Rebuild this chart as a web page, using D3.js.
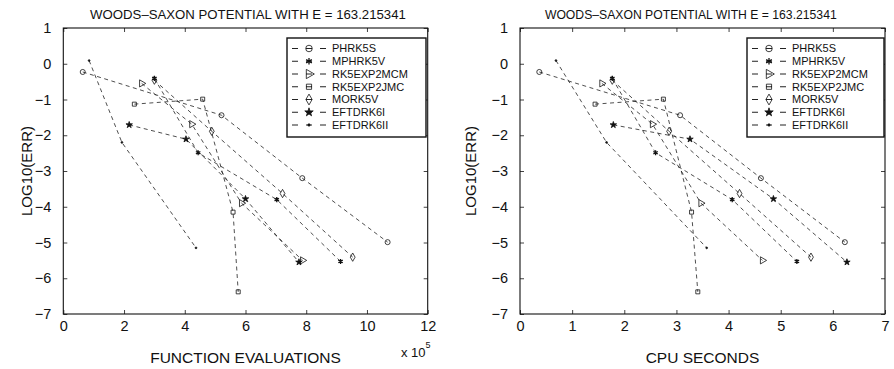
<!DOCTYPE html>
<html><head><meta charset="utf-8">
<script src="https://cdn.jsdelivr.net/npm/d3@7"></script>
<style>
body{margin:0;background:#fff;}
svg{display:block;font-family:"Liberation Sans",Arial,Helvetica,sans-serif;}
</style></head>
<body><svg id="chart" width="894" height="369"></svg>
<script>
const seriesNames = ["PHRK5S","MPHRK5V","RK5EXP2MCM","RK5EXP2JMC","MORK5V","EFTDRK6I","EFTDRK6II"];
const markerKinds = ["circle","asterisk","triangle","square","diamond","star","dot"];
// log10(error) values for each series (shared by both panels)
const logErr = [
  [-0.23,-1.44,-3.20,-4.99],
  [-0.41,-2.49,-3.80,-5.53],
  [-0.55,-1.69,-3.90,-5.50],
  [-1.13,-0.99,-4.15,-6.38],
  [-0.46,-1.89,-3.63,-5.41],
  [-1.71,-2.11,-3.78,-5.55],
  [0.09,-2.20,-5.15]
];
// function evaluations (x 10^5)
const funcEvals = [
  [0.64,5.21,7.87,10.68],
  [3.00,4.44,7.03,9.13],
  [2.58,4.23,5.87,7.88],
  [2.34,4.59,5.59,5.76],
  [3.00,4.89,7.22,9.53],
  [2.17,4.04,6.00,7.76],
  [0.85,1.93,4.37]
];
// CPU seconds
const cpuSeconds = [
  [0.37,3.07,4.62,6.23],
  [1.77,2.60,4.07,5.31],
  [1.57,2.54,3.47,4.65],
  [1.44,2.75,3.29,3.41],
  [1.77,2.86,4.21,5.58],
  [1.79,3.26,4.86,6.27],
  [0.69,1.66,3.58]
];
const yTicks = [-7,-6,-5,-4,-3,-2,-1,0,1];
const xTicksLeft = [0,2,4,6,8,10,12];
const xTicksRight = [0,1,2,3,4,5,6,7];
const titleText = "WOODS\u2013SAXON POTENTIAL WITH E = 163.215341";

const svg = d3.select("#chart");
const ink = "#111";

function marker(g, kind, x, y, k){
  k = k || 1;
  let sym, size, fill="none", rot=0, sw=0.8;
  switch(kind){
    case "circle": sym=d3.symbolCircle; size=20; break;
    case "asterisk": sym=d3.symbolAsterisk; size=18; sw=1.3; break;
    case "triangle": sym=d3.symbolTriangle; size=22; rot=90; break;
    case "square": sym=d3.symbolSquare; size=16; break;
    case "diamond": sym=d3.symbolDiamond; size=20; break;
    case "star": sym=d3.symbolStar; size=13; fill=ink; break;
    case "dot": sym=d3.symbolCircle; size=2.5; fill=ink; break;
  }
  g.append("path").attr("d", d3.symbol(sym, size*k*k)())
    .attr("transform", `translate(${x},${y}) rotate(${rot})`)
    .attr("fill", fill).attr("stroke", ink).attr("stroke-width", sw);
}

function panel(opt){
  const x = d3.scaleLinear().domain(opt.xDomain).range([opt.x0, opt.x1]);
  const y = d3.scaleLinear().domain([-7,1]).range([314, 28]);
  const g = svg.append("g");
  const styleAxis = a => { a.select(".domain").remove(); a.selectAll("line").attr("stroke", ink).attr("stroke-width",0.8); a.selectAll("text").attr("fill","#111").style("font-size","14.5px").style("font-family","Liberation Sans, Arial, sans-serif"); };
  g.append("g").attr("transform",`translate(0,314)`)
    .call(d3.axisBottom(x).tickValues(opt.xTicks).tickSizeInner(-4).tickSizeOuter(0).tickPadding(7).tickFormat(d3.format("d")))
    .call(styleAxis);
  g.append("g").attr("transform",`translate(0,28)`)
    .call(d3.axisTop(x).tickValues(opt.xTicks).tickSizeInner(-4).tickSizeOuter(0).tickFormat(""))
    .call(styleAxis);
  g.append("g").attr("transform",`translate(${opt.x0},0)`)
    .call(d3.axisLeft(y).tickValues(yTicks).tickSizeInner(-4).tickSizeOuter(0).tickPadding(12).tickFormat(d3.format("d")))
    .call(styleAxis);
  g.append("g").attr("transform",`translate(${opt.x1},0)`)
    .call(d3.axisRight(y).tickValues(yTicks).tickSizeInner(-4).tickSizeOuter(0).tickFormat(""))
    .call(styleAxis);
  g.append("rect").attr("x",opt.x0).attr("y",28).attr("width",opt.x1-opt.x0).attr("height",286)
    .attr("fill","none").attr("stroke",ink).attr("stroke-width",1.1);

  const line = d3.line().x(d=>x(d[0])).y(d=>y(d[1]));
  seriesNames.forEach((name,i)=>{
    const pts = opt.xs[i].map((v,j)=>[v, logErr[i][j]]);
    g.append("path").attr("d", line(pts)).attr("fill","none")
      .attr("stroke","#222").attr("stroke-width",0.8).attr("stroke-dasharray","4,3.5");
    pts.forEach(p=>marker(g, markerKinds[i], x(p[0]), y(p[1])));
  });

  const lx = opt.legX, ly = 38, lw = opt.legW, lh = 99;
  g.append("rect").attr("x",lx).attr("y",ly).attr("width",lw).attr("height",lh)
    .attr("fill","#fff").attr("stroke",ink).attr("stroke-width",1.4);
  seriesNames.forEach((name,i)=>{
    const ry = ly + 10.5 + i*12.75;
    g.append("line").attr("x1",lx+5).attr("x2",lx+39).attr("y1",ry).attr("y2",ry)
      .attr("stroke","#222").attr("stroke-width",1).attr("stroke-dasharray","6,8");
    marker(g, markerKinds[i], lx+22, ry, 1.3);
    g.append("text").attr("x",lx+45).attr("y",ry).attr("dy","0.36em")
      .style("font-size","11px").attr("fill","#111").text(name);
  });

  g.append("text").attr("x",opt.titleX).attr("y",19).attr("text-anchor","middle")
    .style("font-size",opt.titleSize+"px").attr("fill","#111").text(titleText);
  g.append("text").attr("x",(opt.x0+opt.x1)/2).attr("y",363).attr("text-anchor","middle")
    .style("font-size","15.5px").attr("fill","#111").text(opt.xLabel);
  g.append("text").attr("transform",`translate(${opt.yLabelX},171) rotate(-90)`).attr("text-anchor","middle")
    .attr("dy","0.35em").style("font-size","15px").attr("fill","#111").text("LOG10(ERR)");
  return g;
}

panel({xDomain:[0,12], x0:63.3, x1:427.7, xTicks:xTicksLeft, xs:funcEvals,
  legX:287, legW:139, titleX:248, titleSize:13.2, xLabel:"FUNCTION EVALUATIONS", yLabelX:27});
panel({xDomain:[0,7], x0:520, x1:885, xTicks:xTicksRight, xs:cpuSeconds,
  legX:747, legW:137, titleX:690.8, titleSize:12.2, xLabel:"CPU SECONDS", yLabelX:471});

const mult = svg.append("text").attr("x",401).attr("y",357).style("font-size","13px").attr("fill","#111");
mult.append("tspan").text("x 10");
mult.append("tspan").attr("dy","-9").style("font-size","9px").text("5");
</script></body></html>
